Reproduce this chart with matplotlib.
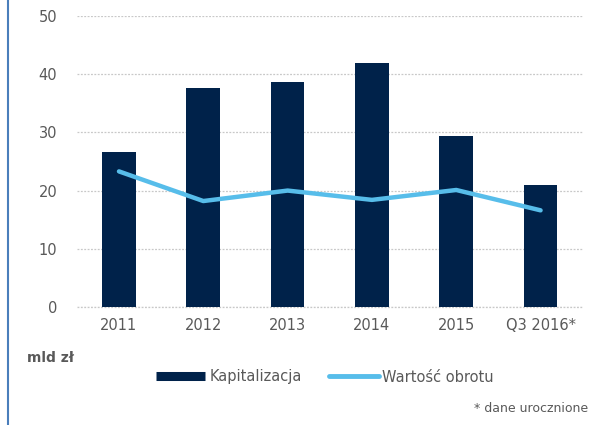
import matplotlib.pyplot as plt
from matplotlib.lines import Line2D

# dane
lata = ['2011', '2012', '2013', '2014', '2015', 'Q3 2016*']
kapitalizacja = [26.6, 37.6, 38.7, 42.0, 29.4, 21.0]
obroty = [23.3, 18.2, 20.0, 18.4, 20.1, 16.6]

ciemny = '#00224A'
jasny = '#57BDEA'
szary = '#595959'

fig = plt.figure(figsize=(5.91, 4.25), dpi=100)
ax = fig.add_axes([0.130, 0.278, 0.856, 0.684])

x = range(len(lata))
ax.bar(x, kapitalizacja, width=0.40, color=ciemny, zorder=2)
ax.plot(x, obroty, color=jasny, lw=3.2, solid_capstyle='round', solid_joinstyle='round', zorder=3)

ax.set_xlim(-0.5, len(lata) - 0.5)
ax.set_ylim(0, 50)
ax.set_yticks([0, 10, 20, 30, 40, 50])
ax.set_xticks(list(x))
ax.set_xticklabels(lata)
ax.grid(axis='y', color='#C8C8C8', linestyle=(0, (1.5, 1.2)), lw=0.9, zorder=0)
# linia zera nie moze byc przycieta
ax.axhline(0, color='#C8C8C8', linestyle=(0, (1.5, 1.2)), lw=0.9, zorder=1, clip_on=False)
for s in ax.spines.values():
    s.set_visible(False)
ax.tick_params(length=0, colors=szary, labelsize=10.5)
ax.tick_params(axis='y', pad=14)
ax.tick_params(axis='x', pad=8)

fig.text(27 / 591, 1 - 358 / 425, 'mld zł', fontsize=10, fontweight='bold', color=szary, va='center')

uchwyty = [Line2D([], [], color=ciemny, lw=6.5, solid_capstyle='butt'),
           Line2D([], [], color=jasny, lw=3.5, solid_capstyle='round')]
fig.legend(uchwyty, ['Kapitalizacja', 'Wartość obrotu'], loc='center', ncol=2,
           bbox_to_anchor=(325 / 591, 1 - 377 / 425), frameon=False, fontsize=10.5,
           handlelength=3.4, handletextpad=0.25, columnspacing=1.9, labelcolor=szary)

fig.text(588 / 591, 1 - 408 / 425, '* dane urocznione', fontsize=9, color=szary, ha='right', va='center')

# niebieska linia z lewej
fig.add_artist(Line2D([8 / 591, 8 / 591], [0, 1], color='#4A7EBB', lw=1.5, transform=fig.transFigure))

fig.savefig('out.png', dpi=100)
